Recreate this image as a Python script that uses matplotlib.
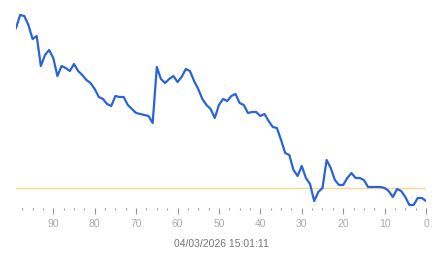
import matplotlib
matplotlib.use("Agg")
import matplotlib.pyplot as plt
from matplotlib.ticker import MultipleLocator

# samples ago (99 .. 0)
samples = list(range(99, -1, -1))
values = [222, 235, 234, 225, 211, 214, 184, 195, 200, 192,
          174, 184, 182, 179, 186, 179, 175, 170, 167, 161,
          153, 151, 146, 144, 154, 153, 153, 145, 141, 137,
          136, 135, 134, 127, 183, 171, 167, 171, 174, 168,
          173, 181, 179, 169, 161, 151, 145, 141, 132, 145,
          151, 149, 154, 156, 147, 145, 137, 138, 138, 134,
          136, 129, 123, 122, 110, 97, 95, 80, 74, 84,
          72, 66, 49, 58, 62, 90, 82, 70, 65, 65,
          72, 77, 72, 72, 70, 63, 63, 63, 63, 62,
          59, 53, 61, 59, 53, 45, 45, 52, 52, 49]
threshold = 62
xticks = [90, 80, 70, 60, 50, 40, 30, 20, 10, 0]
timestamp = "04/03/2026 15:01:11"

W, H = 443, 258
fig = plt.figure(figsize=(W / 100, H / 100), dpi=100)
ax = fig.add_axes([16 / W, (H - 208) / H, 410 / W, 203 / H])

ax.axhline(threshold, color="#f6d98e", lw=1.0, zorder=1)
ax.plot(samples, values, color="#2a62d8", lw=1.6, solid_joinstyle="round", zorder=2)

ax.set_xlim(99, 0)
ax.set_ylim(42, 245)
ax.set_xticks(xticks)
ax.set_xticklabels([str(t) for t in xticks])
ax.xaxis.set_minor_locator(MultipleLocator(2.5))
ax.tick_params(axis="x", which="major", length=4.5, width=0.8, color="#999999",
               labelcolor="#aaaaaa", labelsize=7.5, pad=3.5, direction="out")
ax.tick_params(axis="x", which="minor", length=1.2, width=0.8, color="#999999", direction="out")
ax.set_yticks([])
for s in ax.spines.values():
    s.set_visible(False)

ax.set_xlabel(timestamp, fontsize=7.5, color="#777777", labelpad=7,
              fontfamily="Liberation Sans")
for lab in ax.get_xticklabels():
    lab.set_fontfamily("Liberation Sans")

fig.savefig("out.png", dpi=100)
